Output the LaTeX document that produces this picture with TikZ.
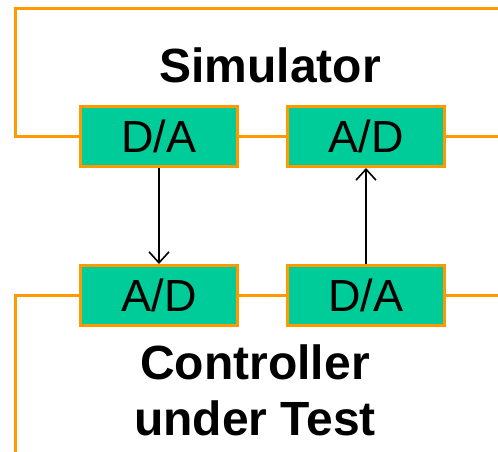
\documentclass[tikz,border=0pt]{standalone}
\usepackage{fontspec}
\setmainfont{Liberation Sans}
\usetikzlibrary{positioning,arrows.meta}
\definecolor{convgreen}{RGB}{0,204,153}
\definecolor{wireorange}{RGB}{255,153,0}

\begin{document}
\begin{tikzpicture}[
  x=1pt, y=-1pt,
  node distance=96pt and 47pt,
  conv/.style={draw=wireorange, line width=3pt, fill=convgreen, minimum width=157pt, minimum height=60pt,
    inner sep=0pt, font=\fontsize{45}{50}\selectfont},
  wire/.style={draw=wireorange, line width=3pt},
  sig/.style={draw=black, line width=1.6pt, -{Straight Barb[length=11pt,width=20pt,line width=1.6pt]}},
  title/.style={font=\fontsize{48}{56}\selectfont\bfseries, align=center},
]
\useasboundingbox (0,0) rectangle (498,452);
% simulator side
\node[conv] (simda) at (159,136.5) {D/A};
\node[conv, right=of simda] (simad) {A/D};
% controller side
\node[conv, below=of simda] (ctlad) {A/D};
\node[conv, right=of ctlad] (ctlda) {D/A};
\node[title] (sim) at (270,65) {Simulator};
\node[title] (ctl) at (255,390) {Controller\\under Test};
% frames
\coordinate (simtl) at (15,9);
\coordinate (simtr) at (498,9);
\coordinate (ctlbl) at (15,452);
\draw[wire] (simda.west) -- (simda.west -| simtl) -- (simtl) -- (simtr);
\draw[wire] (simda.east) -- (simad.west);
\draw[wire] (simad.east) -- (simad.east -| simtr);
\draw[wire] (ctlad.west) -- (ctlad.west -| ctlbl) -- (ctlbl);
\draw[wire] (ctlad.east) -- (ctlda.west);
\draw[wire] (ctlda.east) -- (ctlda.east -| simtr);
% signals
\draw[sig] (simda.south) -- (ctlad.north);
\draw[sig] (ctlda.north) -- (simad.south);
\end{tikzpicture}
\end{document}
